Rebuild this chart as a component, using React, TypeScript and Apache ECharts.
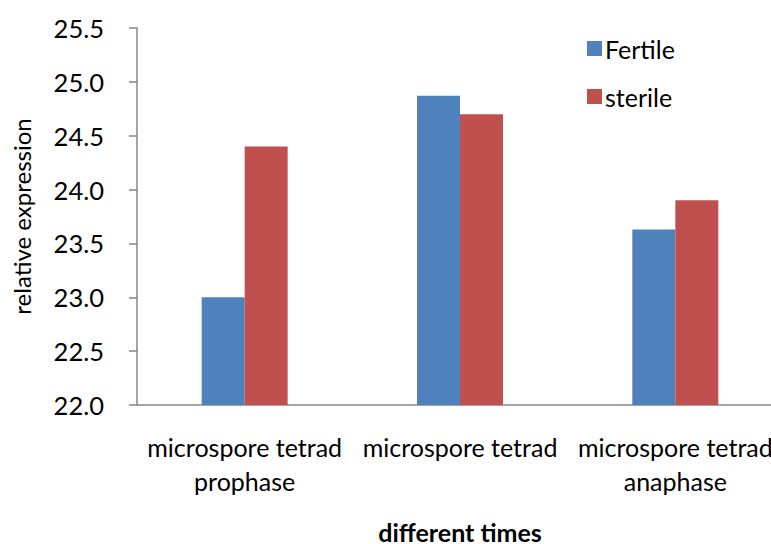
import React, { useEffect, useRef } from "react";
import * as echarts from "echarts";

const categories = ["microspore tetrad\nprophase", "microspore tetrad", "microspore tetrad\nanaphase"];
const fertile = [23.0, 24.87, 23.63];
const sterile = [24.4, 24.7, 23.9];
const yMin = 22.0;
const yMax = 25.5;
const yInterval = 0.5;

const FONT = "Lato, 'Noto Sans', sans-serif";

export default function App() {
  const ref = useRef<HTMLDivElement>(null);
  useEffect(() => {
    document.body.style.margin = "0";
    if (!ref.current) return;
    const chart = echarts.init(ref.current, undefined, { renderer: "svg" });
    chart.setOption({
      animation: false,
      textStyle: { fontFamily: FONT, color: "#000" },
      grid: {
        left: 137,
        top: 28,
        width: 646,
        height: 377,
        containLabel: false,
        outerBoundsMode: "none",
      },
      legend: {
        orient: "vertical",
        left: 582,
        top: 31,
        itemWidth: 15,
        itemHeight: 15,
        itemGap: 23,
        icon: "rect",
        textStyle: { fontFamily: FONT, fontSize: 25, color: "#000", padding: [0, 0, 0, -2] },
        data: ["Fertile", "sterile"],
      },
      xAxis: {
        type: "category",
        data: categories,
        name: "different times",
        nameLocation: "middle",
        nameGap: 115,
        nameTextStyle: { fontFamily: FONT, fontSize: 25, lineHeight: 24, fontWeight: "bold", color: "#000" },
        axisLine: { lineStyle: { color: "#868686", width: 1.5 } },
        axisTick: { show: false },
        axisLabel: { fontFamily: FONT, fontSize: 25, color: "#000", margin: 25, lineHeight: 34, interval: 0 },
      },
      yAxis: {
        type: "value",
        min: yMin,
        max: yMax,
        interval: yInterval,
        name: "relative expression",
        nameLocation: "middle",
        nameGap: 104,
        nameRotate: 90,
        nameTextStyle: { fontFamily: FONT, fontSize: 24, color: "#000" },
        axisLine: { show: true, lineStyle: { color: "#868686", width: 1.5 } },
        axisTick: { show: true, length: 8, inside: false, lineStyle: { color: "#868686", width: 1.5 } },
        splitLine: { show: false },
        axisLabel: {
          fontFamily: FONT,
          fontSize: 25.5,
          color: "#000",
          margin: 33,
          formatter: (v: number) => v.toFixed(1),
        },
      },
      series: [
        {
          name: "Fertile",
          type: "bar",
          data: fertile,
          barWidth: 43,
          barGap: "0%",
          itemStyle: { color: "#4F81BD" },
        },
        {
          name: "sterile",
          type: "bar",
          data: sterile,
          barWidth: 43,
          barGap: "0%",
          itemStyle: { color: "#C0504D" },
        },
      ],
    });
    return () => chart.dispose();
  }, []);
  return (
    <div style={{ width: 771, height: 544, overflow: "hidden", position: "relative" }}>
      <div ref={ref} style={{ width: 771, height: 544 }} />
    </div>
  );
}
